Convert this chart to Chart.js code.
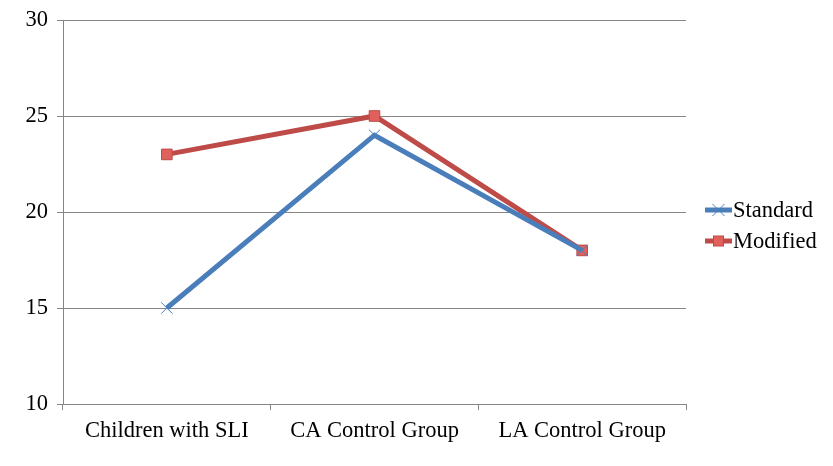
<!DOCTYPE html>
<html>
<head>
<meta charset="utf-8">
<script src="https://cdn.jsdelivr.net/npm/chart.js@4"></script>
<style>
  html, body { margin: 0; padding: 0; background: #fff; }
  #wrap { width: 833px; height: 466px; }
</style>
</head>
<body>
<div id="wrap"><canvas id="lineChart" width="833" height="466"></canvas></div>
<script>
const categories = ['Children with SLI', 'CA Control Group', 'LA Control Group'];
const standardValues = [15, 24, 18];
const modifiedValues = [23, 25, 18];
const yTicks = [10, 15, 20, 25, 30];

const FONT = 'Liberation Serif, Times New Roman, serif';
const FONT_SIZE = 22.5;

// legend drawn at the right, line + marker + label like the original
const sideLegend = {
  id: 'sideLegend',
  afterDraw(chart) {
    const ctx = chart.ctx;
    const rows = [210, 241];
    chart.data.datasets.forEach((ds, i) => {
      const y = rows[i];
      ctx.save();
      ctx.strokeStyle = ds.borderColor;
      ctx.lineWidth = 5;
      ctx.beginPath();
      ctx.moveTo(705, y);
      ctx.lineTo(732, y);
      ctx.stroke();
      const mx = 718.5;
      if (ds.pointStyle === 'rect') {
        ctx.fillStyle = ds.pointBackgroundColor;
        ctx.strokeStyle = ds.pointBorderColor;
        ctx.lineWidth = 1;
        ctx.fillRect(mx - 5, y - 5, 10, 10);
        ctx.strokeRect(mx - 5, y - 5, 10, 10);
      } else {
        ctx.strokeStyle = ds.pointBorderColor;
        ctx.lineWidth = 1;
        ctx.beginPath();
        ctx.moveTo(mx - 6, y - 6); ctx.lineTo(mx + 6, y + 6);
        ctx.moveTo(mx + 6, y - 6); ctx.lineTo(mx - 6, y + 6);
        ctx.stroke();
      }
      ctx.fillStyle = '#000';
      ctx.font = FONT_SIZE + 'px ' + FONT;
      ctx.textBaseline = 'middle';
      ctx.textAlign = 'left';
      ctx.fillText(ds.label, 733, y + 1);
      ctx.restore();
    });
  }
};

const ctx = document.getElementById('lineChart').getContext('2d');
new Chart(ctx, {
  type: 'line',
  data: {
    labels: categories,
    datasets: [
      {
        label: 'Standard',
        data: standardValues,
        borderColor: '#4a7ebb',
        borderWidth: 5,
        pointStyle: 'crossRot',
        pointRadius: 8,
        pointBorderWidth: 1,
        pointBorderColor: '#4a7ebb',
        pointBackgroundColor: '#4a7ebb',
        tension: 0
      },
      {
        label: 'Modified',
        data: modifiedValues,
        borderColor: '#be4b48',
        borderWidth: 5,
        pointStyle: 'rect',
        pointRadius: 7.5,
        pointBorderWidth: 1,
        pointBorderColor: '#be4b48',
        pointBackgroundColor: '#e0605c',
        tension: 0
      }
    ]
  },
  options: {
    responsive: false,
    animation: false,
    layout: { padding: { left: 0, right: 147, top: 20, bottom: 0 } },
    plugins: {
      legend: { display: false },
      tooltip: { enabled: false }
    },
    scales: {
      x: {
        offset: true,
        afterFit(scale) { scale.height = 62; },
        grid: {
          offset: true,
          drawOnChartArea: false,
          drawTicks: true,
          tickLength: 6,
          color: '#868686'
        },
        border: { color: '#868686', width: 1 },
        ticks: {
          color: '#000',
          padding: 8,
          maxRotation: 0,
          font: { family: FONT, size: FONT_SIZE }
        }
      },
      y: {
        min: 10,
        max: 30,
        afterFit(scale) {
          scale.width = 63;
          scale.paddingTop = 0;
          scale.paddingBottom = 0;
        },
        afterBuildTicks(scale) { scale.ticks = yTicks.map(v => ({ value: v })); },
        grid: {
          color: '#868686',
          tickLength: 6,
          drawTicks: true
        },
        border: { color: '#868686', width: 1 },
        ticks: {
          color: '#000',
          padding: 9,
          font: { family: FONT, size: FONT_SIZE }
        }
      }
    }
  },
  plugins: [sideLegend]
});
</script>
</body>
</html>
